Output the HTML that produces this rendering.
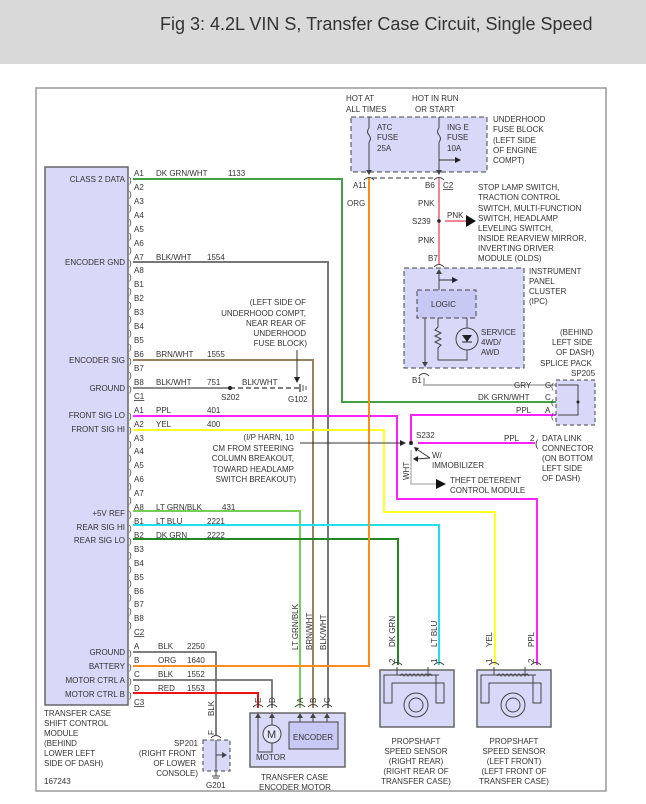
<!DOCTYPE html>
<html><head><meta charset="utf-8"><style>
html,body{margin:0;padding:0;background:#fff;}
svg{display:block;font-family:"Liberation Sans",sans-serif;}
text{font-size:8px;fill:#333;}
</style></head><body>
<svg width="646" height="804" viewBox="0 0 646 804" xmlns="http://www.w3.org/2000/svg">
<rect x="0" y="0" width="646" height="64" fill="#d9d9d9"/>
<text x="160" y="30" style="font-size:18px;fill:#333">Fig 3: 4.2L VIN S, Transfer Case Circuit, Single Speed</text>
<rect x="36" y="88" width="570" height="703" fill="#fff" stroke="#999" stroke-width="1.5"/>

<!-- module -->
<rect x="45" y="167" width="83" height="538" fill="#d8d8f8" stroke="#666" stroke-width="1.5"/>
<g text-anchor="end">
<text x="125" y="182">CLASS 2 DATA</text>
<text x="125" y="265">ENCODER GND</text>
<text x="125" y="363">ENCODER SIG</text>
<text x="125" y="391">GROUND</text>
<text x="125" y="418">FRONT SIG LO</text>
<text x="125" y="432">FRONT SIG HI</text>
<text x="125" y="516">+5V REF</text>
<text x="125" y="530">REAR SIG HI</text>
<text x="125" y="543">REAR SIG LO</text>
<text x="125" y="655">GROUND</text>
<text x="125" y="669">BATTERY</text>
<text x="125" y="683">MOTOR CTRL A</text>
<text x="125" y="697">MOTOR CTRL B</text>
</g>
<g>
<text x="134" y="176">A1</text><text x="134" y="190">A2</text><text x="134" y="204">A3</text><text x="134" y="218">A4</text><text x="134" y="232">A5</text><text x="134" y="246">A6</text><text x="134" y="260">A7</text><text x="134" y="273">A8</text>
<text x="134" y="287">B1</text><text x="134" y="301">B2</text><text x="134" y="315">B3</text><text x="134" y="329">B4</text><text x="134" y="343">B5</text><text x="134" y="357">B6</text><text x="134" y="371">B7</text><text x="134" y="385">B8</text>
<text x="134" y="399" text-decoration="underline">C1</text>
<text x="134" y="413">A1</text><text x="134" y="427">A2</text><text x="134" y="441">A3</text><text x="134" y="454">A4</text><text x="134" y="468">A5</text><text x="134" y="482">A6</text><text x="134" y="496">A7</text><text x="134" y="510">A8</text>
<text x="134" y="524">B1</text><text x="134" y="538">B2</text><text x="134" y="552">B3</text><text x="134" y="566">B4</text><text x="134" y="580">B5</text><text x="134" y="594">B6</text><text x="134" y="607">B7</text><text x="134" y="621">B8</text>
<text x="134" y="635" text-decoration="underline">C2</text>
<text x="134" y="649">A</text><text x="134" y="663">B</text><text x="134" y="677">C</text><text x="134" y="691">D</text>
<text x="134" y="705" text-decoration="underline">C3</text>
</g>
<g style="font-size:10px">
<text x="129" y="183">)</text><text x="129" y="197">)</text><text x="129" y="211">)</text><text x="129" y="225">)</text><text x="129" y="239">)</text><text x="129" y="253">)</text><text x="129" y="266">)</text><text x="129" y="280">)</text>
<text x="129" y="294">)</text><text x="129" y="308">)</text><text x="129" y="322">)</text><text x="129" y="336">)</text><text x="129" y="350">)</text><text x="129" y="364">)</text><text x="129" y="378">)</text><text x="129" y="392">)</text>
<text x="129" y="419">)</text><text x="129" y="433">)</text><text x="129" y="447">)</text><text x="129" y="461">)</text><text x="129" y="475">)</text><text x="129" y="489">)</text><text x="129" y="503">)</text><text x="129" y="517">)</text>
<text x="129" y="531">)</text><text x="129" y="544">)</text><text x="129" y="558">)</text><text x="129" y="572">)</text><text x="129" y="586">)</text><text x="129" y="600">)</text><text x="129" y="614">)</text><text x="129" y="628">)</text>
<text x="129" y="656">)</text><text x="129" y="670">)</text><text x="129" y="684">)</text><text x="129" y="698">)</text>
</g>
<!-- wire labels -->
<text x="156" y="176">DK GRN/WHT</text><text x="228" y="176">1133</text>
<text x="156" y="260">BLK/WHT</text><text x="207" y="260">1554</text>
<text x="156" y="357">BRN/WHT</text><text x="207" y="357">1555</text>
<text x="156" y="385">BLK/WHT</text><text x="207" y="385">751</text><text x="242" y="385">BLK/WHT</text>
<text x="156" y="413">PPL</text><text x="207" y="413">401</text>
<text x="156" y="427">YEL</text><text x="207" y="427">400</text>
<text x="156" y="510">LT GRN/BLK</text><text x="222" y="510">431</text>
<text x="156" y="524">LT BLU</text><text x="207" y="524">2221</text>
<text x="156" y="538">DK GRN</text><text x="207" y="538">2222</text>
<text x="158" y="649">BLK</text><text x="187" y="649">2250</text>
<text x="158" y="663">ORG</text><text x="187" y="663">1640</text>
<text x="158" y="677">BLK</text><text x="187" y="677">1552</text>
<text x="158" y="691">RED</text><text x="187" y="691">1553</text>

<!-- wires -->
<g fill="none" stroke-width="2">
<polyline points="133,179 342,179 342,402 557,402" stroke="#44a044"/>
<polyline points="133,262 328,262 328,708" stroke="#777"/>
<polyline points="133,360 313,360 313,708" stroke="#9a8060"/>
<polyline points="133,388 230,388" stroke="#666" stroke-width="1.5"/>
<polyline points="230,388 300,388" stroke="#555" stroke-width="1.5" stroke-dasharray="5,3"/>
<polyline points="133,416 397,416 397,499 537,499 537,665" stroke="#ff22ff"/>
<polyline points="133,430 384,430 384,512 495,512 495,665" stroke="#ffff22"/>
<polyline points="133,511 300,511 300,708" stroke="#77cc55"/>
<polyline points="133,525 439,525 439,665" stroke="#22ddee"/>
<polyline points="133,539 398,539 398,665" stroke="#228822"/>
<polyline points="133,652 216,652 216,735" stroke="#555" stroke-width="1.5"/>
<polyline points="133,666 369,666 369,178" stroke="#ff8c1a"/>
<polyline points="133,680 272,680 272,708" stroke="#555" stroke-width="1.5"/>
<polyline points="133,693 258,693 258,708" stroke="#ee1111"/>
<polyline points="439,178 439,265" stroke="#f08898"/>
<polyline points="445,221 466,221" stroke="#f08898"/>
<polyline points="424,378 424,385 557,385" stroke="#bbb"/>
<polyline points="557,415 411,415 411,443" stroke="#ff22ff"/>
<polyline points="418,443 535,443" stroke="#ff22ff"/>
<polyline points="411,450 411,484 436,484" stroke="#ccc"/>
</g>
<!-- S202 / G102 -->
<circle cx="230" cy="388" r="2" fill="#222"/>
<text x="221" y="400">S202</text>
<line x1="300" y1="384" x2="300" y2="392" stroke="#555" stroke-width="1.5"/>
<line x1="303" y1="385" x2="303" y2="391" stroke="#555"/>
<line x1="306" y1="386" x2="306" y2="390" stroke="#555"/>
<text x="288" y="402">G102</text>
<line x1="297" y1="350" x2="297" y2="378" stroke="#333"/>
<polygon points="294,377 300,377 297,383" fill="#222"/>
<g text-anchor="end">
<text x="306" y="305">(LEFT SIDE OF</text>
<text x="306" y="316">UNDERHOOD COMPT,</text>
<text x="306" y="326">NEAR REAR OF</text>
<text x="306" y="336">UNDERHOOD</text>
<text x="307" y="346">FUSE BLOCK)</text>
<text x="294" y="440">(I/P HARN, 10</text>
<text x="294" y="451">CM FROM STEERING</text>
<text x="294" y="461">COLUMN BREAKOUT,</text>
<text x="294" y="472">TOWARD HEADLAMP</text>
<text x="296" y="482">SWITCH BREAKOUT)</text>
</g>
<line x1="300" y1="443" x2="402" y2="443" stroke="#333"/>
<polygon points="400,440 406,443 400,446" fill="#222"/>
<circle cx="411" cy="443" r="2" fill="#222"/>
<text x="416" y="438">S232</text>
<text x="504" y="441">PPL</text><text x="530" y="441">2</text>
<text x="535" y="447" style="font-size:10px">(</text>
<text x="542" y="441">DATA LINK</text><text x="542" y="451">CONNECTOR</text><text x="542" y="461">(ON BOTTOM</text><text x="542" y="471">LEFT SIDE</text><text x="542" y="481">OF DASH)</text>
<polyline points="430,458 415,448" stroke="#333" fill="none"/><polyline points="430,458 415,459" stroke="#333" fill="none"/>
<polygon points="414,447 419,448 416,452" fill="#222"/><polygon points="413,459 418,456 418,462" fill="#222"/>
<text x="432" y="458">W/</text><text x="432" y="468">IMMOBILIZER</text>
<text x="0" y="0" transform="translate(409,480) rotate(-90)">WHT</text>
<polygon points="436,479 446,484 436,489" fill="#111"/>
<text x="450" y="483">THEFT DETERENT</text><text x="450" y="493">CONTROL MODULE</text>

<!-- fuse block -->
<rect x="351" y="117" width="136" height="55" fill="#d8d8f8" stroke="#444" stroke-dasharray="5,3"/>
<text x="346" y="101">HOT AT</text><text x="346" y="112">ALL TIMES</text>
<text x="412" y="101">HOT IN RUN</text><text x="415" y="112">OR START</text>
<line x1="369" y1="117" x2="369" y2="128" stroke="#444"/><path d="M369,128 q-3,4 0,7 q3,4 0,7" fill="none" stroke="#444"/><line x1="369" y1="142" x2="369" y2="172" stroke="#444"/>
<line x1="439" y1="117" x2="439" y2="128" stroke="#444"/><path d="M439,128 q-3,4 0,7 q3,4 0,7" fill="none" stroke="#444"/><line x1="439" y1="142" x2="439" y2="172" stroke="#444"/>
<polygon points="366,170 372,170 369,175" fill="#444"/><polygon points="436,170 442,170 439,175" fill="#444"/>
<line x1="439" y1="160" x2="455" y2="160" stroke="#333"/><polygon points="455,157 461,160 455,163" fill="#222"/>
<text x="377" y="130">ATC</text><text x="377" y="140">FUSE</text><text x="377" y="151">25A</text>
<text x="447" y="130">ING E</text><text x="447" y="140">FUSE</text><text x="447" y="151">10A</text>
<text x="493" y="122">UNDERHOOD</text><text x="493" y="132">FUSE BLOCK</text><text x="493" y="143">(LEFT SIDE</text><text x="493" y="153">OF ENGINE</text><text x="493" y="163">COMPT)</text>
<line x1="372" y1="178" x2="436" y2="178" stroke="#777" stroke-dasharray="5,3" stroke-width="1.5"/>
<path d="M364,180 q5,-5 10,0 M434,180 q5,-5 10,0" fill="none" stroke="#444"/>
<text x="353" y="188">A11</text><text x="425" y="188">B6</text><text x="443" y="188" text-decoration="underline">C2</text>
<text x="347" y="206">ORG</text><text x="418" y="206">PNK</text>
<circle cx="439" cy="221" r="1.8" fill="#222"/><text x="412" y="224">S239</text>
<text x="447" y="218">PNK</text>
<polygon points="466,215 476,221 466,227" fill="#111"/>
<text x="478" y="190">STOP LAMP SWITCH,</text><text x="478" y="200">TRACTION CONTROL</text><text x="478" y="211">SWITCH, MULTI-FUNCTION</text><text x="478" y="221">SWITCH, HEADLAMP</text><text x="478" y="231">LEVELING SWITCH,</text><text x="478" y="241">INSIDE REARVIEW MIRROR,</text><text x="478" y="251">INVERTING DRIVER</text><text x="478" y="261">MODULE (OLDS)</text>
<text x="418" y="243">PNK</text><text x="428" y="261">B7</text>
<path d="M434,267 q5,-5 10,0" fill="none" stroke="#444"/>
<!-- IPC -->
<rect x="404" y="268" width="120" height="100" fill="#d8d8f8" stroke="#444" stroke-dasharray="5,3"/>
<line x1="439" y1="270" x2="439" y2="290" stroke="#444"/><polygon points="436,274 442,274 439,269" fill="#444"/>
<line x1="439" y1="280" x2="452" y2="280" stroke="#333"/><polygon points="452,277 458,280 452,283" fill="#222"/>
<rect x="417" y="290" width="59" height="28" fill="#c8c8f4" stroke="#444" stroke-dasharray="5,3"/>
<text x="431" y="307">LOGIC</text>
<line x1="425" y1="318" x2="425" y2="366" stroke="#444"/><polygon points="422,362 428,362 425,367" fill="#444"/>
<polyline points="438,318 438,327 435,330 441,333 435,336 441,339 435,342 441,345 438,348 438,360 467,360 467,318" fill="none" stroke="#444"/>
<circle cx="467" cy="339" r="11" fill="#d8d8f8" stroke="#444"/>
<polygon points="462,335 472,335 467,342" fill="#222"/><line x1="462" y1="342" x2="472" y2="342" stroke="#222"/>
<text x="481" y="335">SERVICE</text><text x="481" y="345">4WD/</text><text x="481" y="355">AWD</text>
<text x="529" y="274">INSTRUMENT</text><text x="529" y="284">PANEL</text><text x="529" y="294">CLUSTER</text><text x="529" y="304">(IPC)</text>
<path d="M419,376 q5,-5 10,0" fill="none" stroke="#444"/><text x="412" y="383">B1</text>
<!-- SP205 -->
<rect x="556" y="380" width="39" height="45" fill="#d8d8f8" stroke="#444" stroke-dasharray="4,3"/>
<polyline points="558,385 578,385 578,415 558,415 M558,402 578,402" fill="none" stroke="#444"/>
<circle cx="578" cy="402" r="1.5" fill="#222"/>
<text x="514" y="388">GRY</text><text x="545" y="388">G</text>
<text x="478" y="400">DK GRN/WHT</text><text x="545" y="400">C</text>
<text x="516" y="413">PPL</text><text x="545" y="413">A</text>
<g style="font-size:10px"><text x="551" y="389">(</text><text x="551" y="405">(</text><text x="551" y="419">(</text></g>
<text x="560" y="335">(BEHIND</text><text x="552" y="345">LEFT SIDE</text><text x="556" y="355">OF DASH)</text><text x="540" y="366">SPLICE PACK</text><text x="571" y="376">SP205</text>

<!-- encoder motor -->
<rect x="250" y="713" width="95" height="54" fill="#d8d8f8" stroke="#666" stroke-width="1.5"/>
<g fill="none" stroke="#444">
<path d="M253,707 q5,-5 10,0 M267,707 q5,-5 10,0 M295,707 q5,-5 10,0 M308,707 q5,-5 10,0 M322,707 q5,-5 10,0"/>
<polyline points="258,714 258,752 272,752 272,743"/><line x1="272" y1="714" x2="272" y2="725"/>
<line x1="300" y1="714" x2="300" y2="722"/><line x1="313" y1="714" x2="313" y2="722"/><line x1="327" y1="714" x2="327" y2="722"/>
</g>
<g fill="#444"><polygon points="255,718 261,718 258,713"/><polygon points="269,718 275,718 272,713"/><polygon points="297,718 303,718 300,713"/><polygon points="310,718 316,718 313,713"/><polygon points="324,718 330,718 327,713"/></g>
<circle cx="272" cy="734" r="9" fill="#e4e4fa" stroke="#444"/><text x="267" y="738" style="font-size:11px">M</text>
<rect x="289" y="722" width="49" height="27" fill="#c8c8f4" stroke="#444"/><text x="293" y="740">ENCODER</text>
<text x="256" y="760">MOTOR</text>
<text x="261" y="780">TRANSFER CASE</text><text x="259" y="790">ENCODER MOTOR</text>
<g>
<text transform="translate(261,703) rotate(-90)">E</text><text transform="translate(275,703) rotate(-90)">D</text>
<text transform="translate(303,703) rotate(-90)">A</text><text transform="translate(316,703) rotate(-90)">B</text><text transform="translate(330,703) rotate(-90)">C</text>
<text transform="translate(298,650) rotate(-90)">LT GRN/BLK</text><text transform="translate(312,650) rotate(-90)">BRN/WHT</text><text transform="translate(326,650) rotate(-90)">BLK/WHT</text>
<text transform="translate(214,716) rotate(-90)">BLK</text><text transform="translate(214,735) rotate(-90)">F</text>
</g>
<!-- SP201 -->
<rect x="203" y="740" width="27" height="31" fill="#d8d8f8" stroke="#444" stroke-dasharray="4,3"/>
<path d="M211,738 q5,-5 10,0" fill="none" stroke="#444"/>
<line x1="216" y1="740" x2="216" y2="776" stroke="#444"/><line x1="216" y1="755" x2="222" y2="755" stroke="#444"/><polygon points="222,752 227,755 222,758" fill="#444"/>
<line x1="212" y1="776" x2="220" y2="776" stroke="#444"/><line x1="213" y1="778" x2="219" y2="778" stroke="#444"/>
<text x="206" y="788">G201</text>
<g text-anchor="end"><text x="198" y="746">SP201</text><text x="196" y="756">(RIGHT FRONT</text><text x="196" y="766">OF LOWER</text><text x="198" y="776">CONSOLE)</text></g>
<text x="44" y="716">TRANSFER CASE</text><text x="44" y="726">SHIFT CONTROL</text><text x="44" y="736">MODULE</text><text x="44" y="746">(BEHIND</text><text x="44" y="756">LOWER LEFT</text><text x="44" y="766">SIDE OF DASH)</text>
<text x="44" y="784">167243</text>

<!-- sensors -->
<g>
<rect x="380" y="670" width="74" height="57" fill="#d8d8f8" stroke="#666" stroke-width="1.5"/>
<rect x="477" y="670" width="74" height="57" fill="#d8d8f8" stroke="#666" stroke-width="1.5"/>
<g fill="none" stroke="#444">
<path d="M392,665 q5,-5 10,0 M434,665 q5,-5 10,0 M489,665 q5,-5 10,0 M531,665 q5,-5 10,0"/>
<path d="M397,667 v8 h-13 v28 h8 v-20 h52 v20 h-8 v-28 h-8 v-8 M397,675 h42"/>
<path d="M400,676 q2,-4 4,0 q2,-4 4,0 q2,-4 4,0 q2,-4 4,0 q2,-4 4,0 q2,-4 4,0 q2,-4 4,0 q2,-4 4,0"/>
<circle cx="416" cy="705" r="12"/><circle cx="416" cy="705" r="7"/>
<path d="M494,667 v8 h-13 v28 h8 v-20 h52 v20 h-8 v-28 h-8 v-8 M494,675 h42"/>
<path d="M497,676 q2,-4 4,0 q2,-4 4,0 q2,-4 4,0 q2,-4 4,0 q2,-4 4,0 q2,-4 4,0 q2,-4 4,0 q2,-4 4,0"/>
<circle cx="513" cy="705" r="12"/><circle cx="513" cy="705" r="7"/>
</g>
<g text-anchor="middle">
<text x="416" y="744">PROPSHAFT</text><text x="416" y="754">SPEED SENSOR</text><text x="416" y="764">(RIGHT REAR)</text><text x="416" y="774">(RIGHT REAR OF</text><text x="416" y="784">TRANSFER CASE)</text>
<text x="514" y="744">PROPSHAFT</text><text x="514" y="754">SPEED SENSOR</text><text x="514" y="764">(LEFT FRONT)</text><text x="514" y="774">(LEFT FRONT OF</text><text x="514" y="784">TRANSFER CASE)</text>
</g>
<text transform="translate(395,663) rotate(-90)">2</text><text transform="translate(437,663) rotate(-90)">1</text>
<text transform="translate(492,663) rotate(-90)">1</text><text transform="translate(534,663) rotate(-90)">2</text>
<text transform="translate(395,647) rotate(-90)">DK GRN</text><text transform="translate(437,647) rotate(-90)">LT BLU</text>
<text transform="translate(492,647) rotate(-90)">YEL</text><text transform="translate(534,647) rotate(-90)">PPL</text>
</g>
</svg>
</body></html>
